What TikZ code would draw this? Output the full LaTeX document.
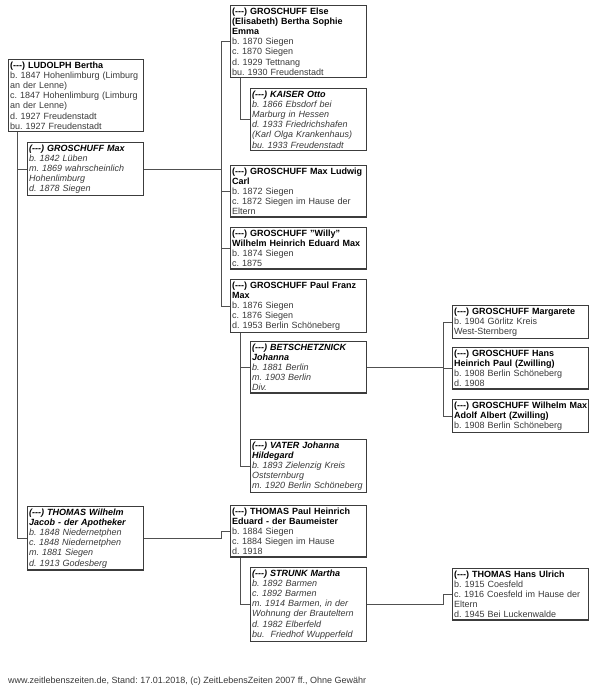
\documentclass[tikz,border=0pt]{standalone}
\usepackage{fontspec}
\setmainfont{Liberation Sans}
\usetikzlibrary{positioning}

\definecolor{boxline}{HTML}{3C3C3C}
\definecolor{linegray}{HTML}{505050}
\definecolor{detail}{HTML}{383838}

\newcommand{\unk}{(-{}-{}-)}
\newcommand{\nm}[1]{{\color{black}\bfseries #1}}

\tikzset{
  person/.style={draw=boxline, line width=1.3pt, anchor=north west, align=left,
    inner xsep=1.5pt, inner ysep=2pt, text=detail, text width=#1,
    font=\fontsize{9}{10.2}\selectfont\frenchspacing},
  person/.default=133pt,
  spouse/.style={person=#1, font=\fontsize{9}{10.2}\selectfont\frenchspacing\itshape},
  spouse/.default=113pt,
  link/.style={draw=linegray, line width=1pt},
}

\begin{document}
\begin{tikzpicture}[x=1pt, y=-1pt]
                \useasboundingbox (0,0) rectangle (600,689);

                % left column
                \node[person=132pt] (ludolph) at (8,59) {\nm{\unk{} LUDOLPH Bertha}\\ b. 1847 Hohenlimburg (Limburg\\ an der Lenne)\\ c. 1847 Hohenlimburg (Limburg\\ an der Lenne)\\ d. 1927 Freudenstadt\\ bu. 1927 Freudenstadt};
                \node[spouse] (grMax) at (27,142) {\nm{\unk{} GROSCHUFF Max}\\ b. 1842 Lüben\\ m. 1869 wahrscheinlich\\ Hohenlimburg\\ d. 1878 Siegen};
                \node[spouse] (thomasW) at (27,506) {\nm{\unk{} THOMAS Wilhelm\\ Jacob - der Apotheker}\\ b. 1848 Niedernetphen\\ c. 1848 Niedernetphen\\ m. 1881 Siegen\\ d. 1913 Godesberg};

                % middle column
                \node[person] (else) at (230,5) {\nm{\unk{} GROSCHUFF Else\\ (Elisabeth) Bertha Sophie\\ Emma}\\ b. 1870 Siegen\\ c. 1870 Siegen\\ d. 1929 Tettnang\\ bu. 1930 Freudenstadt};
                \node[spouse] (kaiser) at (250,88) {\nm{\unk{} KAISER Otto}\\ b. 1866 Ebsdorf bei\\ Marburg in Hessen\\ d. 1933 Friedrichshafen\\ (Karl Olga Krankenhaus)\\ bu. 1933 Freudenstadt};
                \node[person] (maxLudwig) at (230,165) {\nm{\unk{} GROSCHUFF Max Ludwig\\ Carl}\\ b. 1872 Siegen\\ c. 1872 Siegen im Hause der\\ Eltern};
                \node[person] (willy) at (230,227) {\nm{\unk{} GROSCHUFF "Willy"\\ Wilhelm Heinrich Eduard Max}\\ b. 1874 Siegen\\ c. 1875};
                \node[person] (paulFranz) at (230,279) {\nm{\unk{} GROSCHUFF Paul Franz\\ Max}\\ b. 1876 Siegen\\ c. 1876 Siegen\\ d. 1953 Berlin Schöneberg};
                \node[spouse] (betsch) at (250,341) {\nm{\unk{} BETSCHETZNICK\\ Johanna}\\ b. 1881 Berlin\\ m. 1903 Berlin\\ Div.};
                \node[spouse] (vater) at (250,439) {\nm{\unk{} VATER Johanna\\ Hildegard}\\ b. 1893 Zielenzig Kreis\\ Oststernburg\\ m. 1920 Berlin Schöneberg};
                \node[person] (thomasP) at (230,505) {\nm{\unk{} THOMAS Paul Heinrich\\ Eduard - der Baumeister}\\ b. 1884 Siegen\\ c. 1884 Siegen im Hause\\ d. 1918};
                \node[spouse] (strunk) at (250,567) {\nm{\unk{} STRUNK Martha}\\ b. 1892 Barmen\\ c. 1892 Barmen\\ m. 1914 Barmen, in der\\ Wohnung der Brauteltern\\ d. 1982 Elberfeld\\ bu.\ \ Friedhof Wupperfeld};

                % right column
                \node[person] (margarete) at (452,305) {\nm{\unk{} GROSCHUFF Margarete}\\ b. 1904 Görlitz Kreis\\ West-Sternberg};
                \node[person] (hans) at (452,347) {\nm{\unk{} GROSCHUFF Hans\\ Heinrich Paul (Zwilling)}\\ b. 1908 Berlin Schöneberg\\ d. 1908};
                \node[person] (wilhelmMax) at (452,399) {\nm{\unk{} GROSCHUFF Wilhelm Max\\ Adolf Albert (Zwilling)}\\ b. 1908 Berlin Schöneberg};
                \node[person] (hansU) at (452,568) {\nm{\unk{} THOMAS Hans Ulrich}\\ b. 1915 Coesfeld\\ c. 1916 Coesfeld im Hause der\\ Eltern\\ d. 1945 Bei Luckenwalde};

                \node[anchor=west, text=detail, inner sep=0pt, font=\fontsize{9}{10.2}\selectfont\frenchspacing] (footer) at (8,681) {www.zeitlebenszeiten.de, Stand: 17.01.2018, (c) ZeitLebensZeiten 2007 ff., Ohne Gewähr};

                % marriages
                \draw[link] ([xshift=9pt]ludolph.south west) |- (grMax.west);
                \draw[link] ([xshift=9pt]ludolph.south west) |- (thomasW.west);
                \draw[link] ([xshift=10pt]else.south west) |- (kaiser.west);
                \draw[link] ([xshift=10pt]paulFranz.south west) |- (betsch.west);
                \draw[link] ([xshift=10pt]paulFranz.south west) |- (vater.west);
                \draw[link] ([xshift=10pt]thomasP.south west) |- (strunk.west);

                % children
                \coordinate (kidsA) at ([xshift=-9pt]else.west);
                \coordinate (kidsB) at ([xshift=-9pt]margarete.west);
                \draw[link] (else.west) -- (kidsA) |- (paulFranz.west);
                \draw[link] (kidsA |- maxLudwig.west) -- (maxLudwig.west);
                \draw[link] (kidsA |- willy.west) -- (willy.west);
                \draw[link] (grMax.east) -- (grMax.east -| kidsA);
                \draw[link] (thomasW.east) -- (thomasW.east -| kidsA) |- (thomasP.west);
                \draw[link] (margarete.west) -- (kidsB) |- (wilhelmMax.west);
                \draw[link] (kidsB |- hans.west) -- (hans.west);
                \draw[link] (betsch.east) -- (betsch.east -| kidsB);
                \draw[link] (strunk.east) -- (strunk.east -| kidsB) |- (hansU.west);
            \end{tikzpicture}
\end{document}
